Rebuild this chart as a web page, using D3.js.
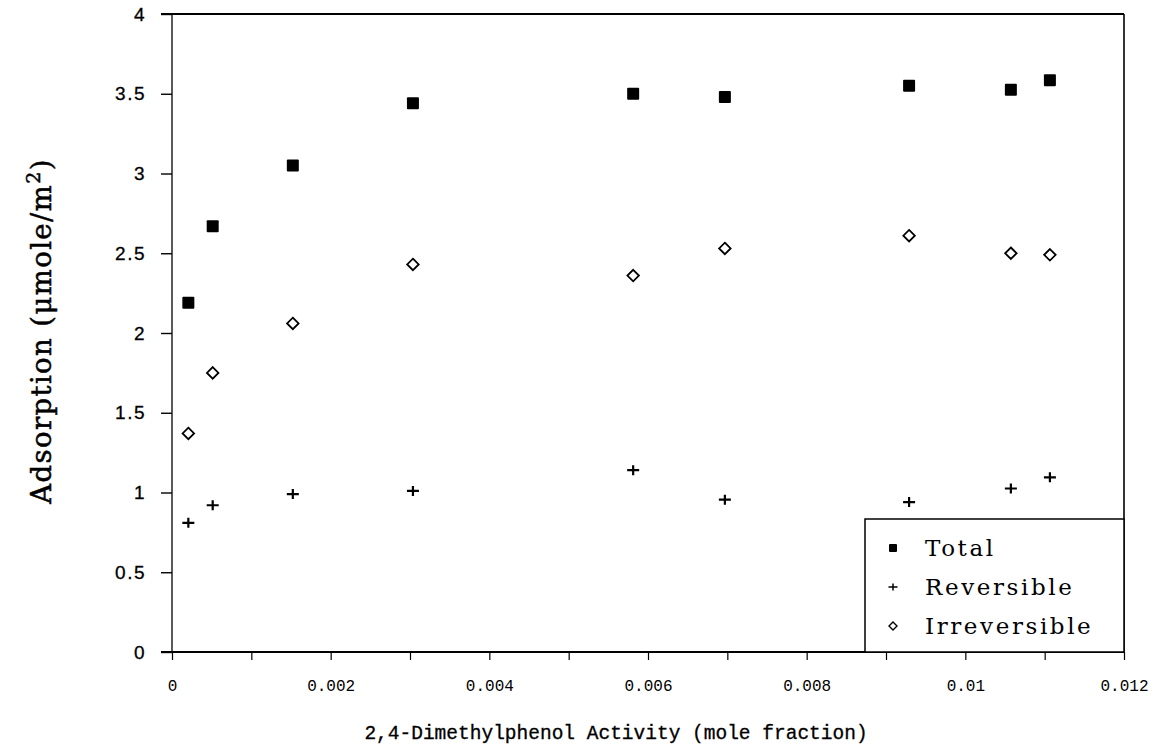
<!DOCTYPE html>
<html>
<head>
<meta charset="utf-8">
<script src="https://cdn.jsdelivr.net/npm/d3@7"></script>
<style>
  body { margin: 0; background: #fff; }
  svg { display: block; }
</style>
</head>
<body>
<div id="chart"></div>
<script>
// 2,4-dimethylphenol activity (mole fraction)
const activity = [0.000206, 0.000513, 0.001523, 0.003037, 0.005813, 0.006969, 0.009291, 0.010574, 0.011066];
// adsorption, umole/m2
const totalAds = [2.19, 2.67, 3.05, 3.44, 3.50, 3.48, 3.55, 3.525, 3.585];
const reversibleAds = [0.81, 0.92, 0.99, 1.01, 1.14, 0.955, 0.94, 1.025, 1.095];
const irreversibleAds = [1.37, 1.75, 2.06, 2.43, 2.36, 2.53, 2.61, 2.50, 2.49];

const xTicks = d3.range(13).map(i => i / 1000);
const yTicks = d3.range(9).map(i => i / 2);
const legendLabels = ["Total", "Reversible", "Irreversible"];

const width = 1160, height = 745;
const margin = {top: 14, right: 36, bottom: 93, left: 172};

const svg = d3.select("#chart").append("svg")
    .attr("width", width)
    .attr("height", height);

const x = d3.scaleLinear().domain([0, 0.012]).range([margin.left, width - margin.right]);
const y = d3.scaleLinear().domain([0, 4]).range([height - margin.bottom, margin.top]);

// y axis, ticks pointing out
const yAxis = svg.append("g")
    .attr("transform", "translate(" + margin.left + ",0)")
    .call(d3.axisLeft(y).tickValues(yTicks).tickSize(11).tickSizeOuter(0).tickPadding(15)
        .tickFormat(d3.format("~g")));
yAxis.select(".domain").remove();
yAxis.selectAll("line").attr("stroke", "#000").attr("stroke-width", 1.4);
yAxis.selectAll("text")
    .style("font-family", "'Liberation Sans', Arial, sans-serif")
    .style("font-size", "19px")
    .style("letter-spacing", "1.5px")
    .attr("stroke", "#000").attr("stroke-width", 0.3)
    .attr("fill", "#000");

// x axis, minor ticks every 0.001, labels every 0.002
const xAxis = svg.append("g")
    .attr("transform", "translate(0," + y(0) + ")")
    .call(d3.axisBottom(x).tickValues(xTicks).tickSize(8).tickSizeOuter(0).tickPadding(20)
        .tickFormat((d, i) => i % 2 == 0 ? d3.format("~g")(d) : ""));
xAxis.select(".domain").remove();
xAxis.selectAll("line").attr("stroke", "#000").attr("stroke-width", 1.2);
xAxis.selectAll("text")
    .style("font-family", "'Liberation Mono', 'DejaVu Sans Mono', monospace")
    .style("font-size", "16px")
    .attr("fill", "#000");

// frame
const frame = svg.append("g").attr("stroke", "#000").attr("fill", "none");
frame.append("line").attr("x1", x(0) - 11).attr("x2", x(0.012)).attr("y1", y(4)).attr("y2", y(4)).attr("stroke-width", 2.2);
frame.append("line").attr("x1", x(0) - 11).attr("x2", x(0.012)).attr("y1", y(0)).attr("y2", y(0)).attr("stroke-width", 2.2);
frame.append("line").attr("x1", x(0)).attr("x2", x(0)).attr("y1", y(4)).attr("y2", y(0)).attr("stroke-width", 1.3);
frame.append("line").attr("x1", x(0.012)).attr("x2", x(0.012)).attr("y1", y(4)).attr("y2", y(0)).attr("stroke-width", 1.6);

const pts = activity.map((a, i) => ({a: a, t: totalAds[i], r: reversibleAds[i], ir: irreversibleAds[i]}));

// marker helpers
function square(g, s) {
    g.append("rect").attr("x", -s / 2).attr("y", -s / 2).attr("width", s).attr("height", s)
        .attr("rx", 1).attr("fill", "#000");
}
function plus(g, s, w) {
    g.append("path").attr("d", "M" + (-s / 2) + ",0H" + (s / 2) + "M0," + (-s / 2 + 1) + "V" + (s / 2 - 1))
        .attr("stroke", "#000").attr("stroke-width", w);
}
function diamond(g, s, w) {
    g.append("path").attr("d", "M0," + (-s / 2) + "L" + (s / 2) + ",0L0," + (s / 2) + "L" + (-s / 2) + ",0Z")
        .attr("fill", "#fff").attr("stroke", "#000").attr("stroke-width", w);
}

svg.append("g").selectAll("g")
    .data(pts).enter().append("g")
    .attr("transform", d => "translate(" + x(d.a) + "," + y(d.t) + ")")
    .each(function () { square(d3.select(this), 12); });

svg.append("g").selectAll("g")
    .data(pts).enter().append("g")
    .attr("transform", d => "translate(" + x(d.a) + "," + y(d.r) + ")")
    .each(function () { plus(d3.select(this), 12, 2.2); });

svg.append("g").selectAll("g")
    .data(pts).enter().append("g")
    .attr("transform", d => "translate(" + x(d.a) + "," + y(d.ir) + ")")
    .each(function () { diamond(d3.select(this), 11.5, 1.8); });

// legend box in the lower right corner
const lg = svg.append("g");
lg.append("rect")
    .attr("x", 865).attr("y", 519)
    .attr("width", x(0.012) - 865).attr("height", y(0) - 519)
    .attr("fill", "#fff").attr("stroke", "#000").attr("stroke-width", 1.5);

const rows = lg.selectAll(".row")
    .data(legendLabels).enter().append("g")
    .attr("class", "row")
    .attr("transform", (d, i) => "translate(893," + (548 + i * 39) + ")");
rows.each(function (d, i) {
    const g = d3.select(this);
    if (i == 0) square(g, 8);
    else if (i == 1) plus(g, 9, 1.5);
    else diamond(g, 8, 1.4);
});
rows.append("text")
    .attr("x", 32).attr("dy", "0.35em")
    .style("font-family", "'DejaVu Serif', serif")
    .style("font-size", "23px")
    .style("letter-spacing", "2.6px")
    .text(d => d);

// axis titles
svg.append("text")
    .attr("x", 616)
    .attr("y", 739)
    .attr("text-anchor", "middle")
    .style("font-family", "'Liberation Mono', 'DejaVu Sans Mono', monospace")
    .style("font-size", "19.5px")
    .attr("stroke", "#000").attr("stroke-width", 0.3)
    .text("2,4-Dimethylphenol Activity (mole fraction)");

const yt = svg.append("text")
    .attr("transform", "translate(51," + (y(2) - 2) + ") rotate(-90)")
    .attr("text-anchor", "middle")
    .style("font-family", "'DejaVu Serif', serif")
    .style("font-size", "27.5px")
    .style("letter-spacing", "1.4px")
    .attr("stroke", "#000").attr("stroke-width", 0.5);
yt.append("tspan").text("Adsorption (\u03bcmole/m");
yt.append("tspan").attr("baseline-shift", "super").style("font-size", "19px").text("2");
yt.append("tspan").text(")");
</script>
</body>
</html>
